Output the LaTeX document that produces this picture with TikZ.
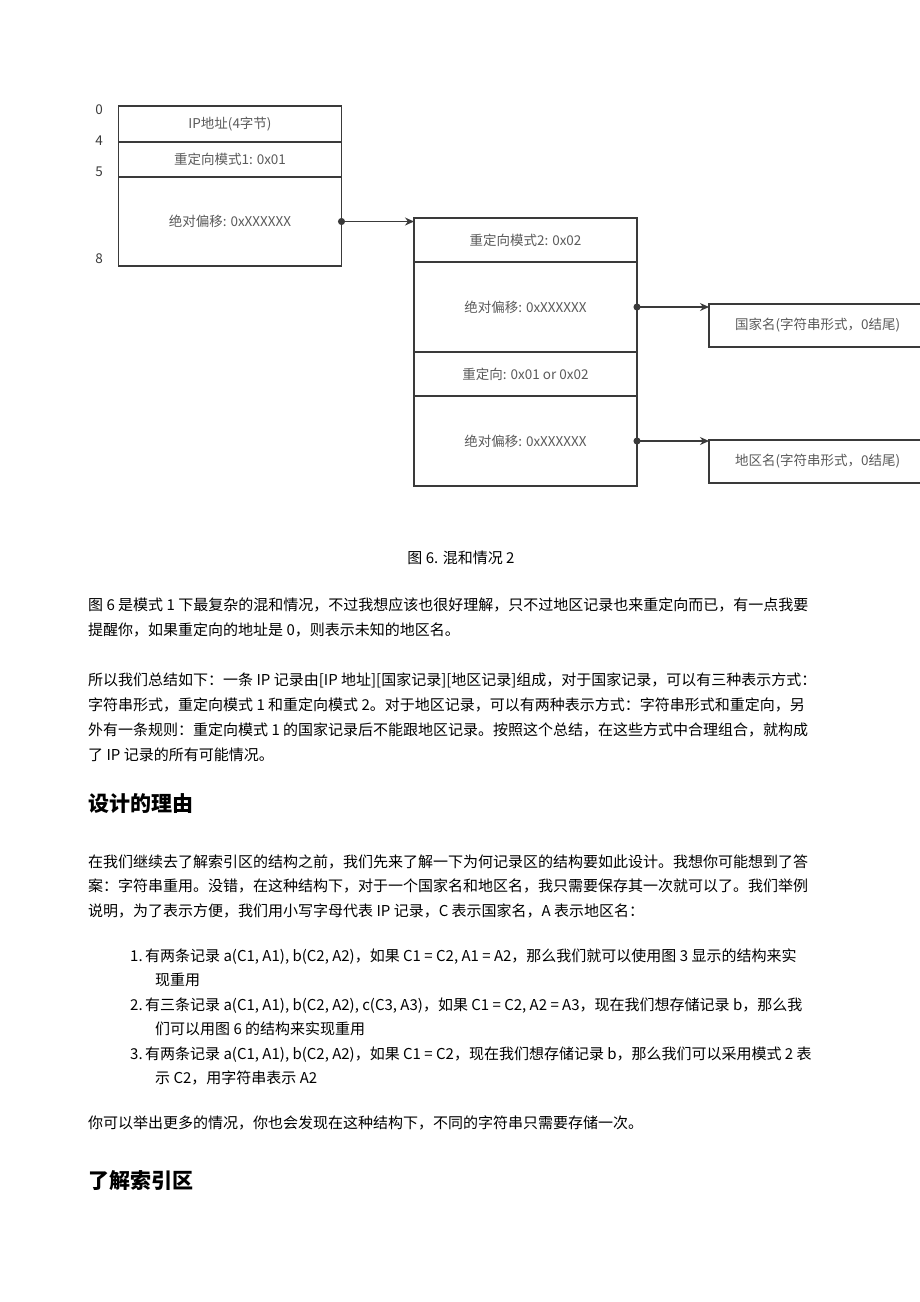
\documentclass[tikz,border=0pt]{standalone}
\usepackage{fontspec}
\setmainfont{Noto Sans CJK SC}
\usetikzlibrary{positioning}
\usetikzlibrary{arrows.meta}

\definecolor{boxline}{HTML}{3A3A3A}
\definecolor{fieldtext}{HTML}{5A5A5A}

\begin{document}
\begin{tikzpicture}[
    x=1pt,
    y=-1pt,
    node distance=0,
    >={Stealth[length=9pt,width=8pt]},
    field/.style={
      rectangle,
      draw=boxline,
      line width=1.1pt,
      minimum width=223pt,
      inner sep=0pt,
      outer sep=0pt,
      text=fieldtext,
      font=\fontsize{13.5}{16}\selectfont
    },
    row/.style={field, minimum height=#1},
    namebox/.style={
      field,
      anchor=north west,
      minimum height=43pt,
      text width=230pt,
      align=left,
      inner xsep=26pt
    },
    offsetptr/.style={
      draw=boxline,
      line width=1.1pt,
      {Circle[length=7pt]}->,
      shorten <=-3.5pt
    },
    byteno/.style={text=boxline, inner sep=0pt, font=\fontsize{13.5}{16}\selectfont},
    body/.style={anchor=base west, align=left, inner sep=0pt, font=\fontsize{15}{25}\selectfont},
    listitem/.style={body, font=\fontsize{15}{24.5}\selectfont},
    heading/.style={anchor=base west, inner sep=0pt, font=\fontsize{21}{25}\selectfont\bfseries},
    ]

    \useasboundingbox (0,0) rectangle (920,1302);
    \clip (0,0) rectangle (920,1302);

    % first record
    \node (ipaddr) [row=36pt, anchor=north] at (230,106) {IP地址(4字节)};
    \node (mode1) [row=35pt, below=of ipaddr] {重定向模式1: 0x01};
    \node (offset1) [row=89pt, below=of mode1] {绝对偏移: 0xXXXXXX};

    \foreach \n/\y in {0/110,4/141,5/172,8/259}{
      \node (byte\n) [byteno] at (99,\y) {\n};
    }

    % redirected record
    \node (mode2) [row=44pt, anchor=north] at (525.5,218) {重定向模式2: 0x02};
    \node (offset2) [row=90pt, below=of mode2] {绝对偏移: 0xXXXXXX};
    \node (redir) [row=44pt, below=of offset2] {重定向: 0x01 or 0x02};
    \node (offset3) [row=90pt, below=of redir] {绝对偏移: 0xXXXXXX};

    \node (country) [namebox] at (709,304) {国家名(字符串形式，0结尾)};
    \node (area) [namebox] at (709,440) {地区名(字符串形式，0结尾)};

    \draw[offsetptr] (offset1.east) -- (offset1.east -| mode2.west);
    \draw[offsetptr] (offset2.east) -- (offset2.east -| country.west);
    \draw[offsetptr] (offset3.east) -- (offset3.east -| area.west);

    \node (caption) [anchor=base, inner sep=0pt, font=\fontsize{15}{18}\selectfont] at (461,563) {图 6. 混和情况 2};

    % text below the figure (base = last line)
    \node (para1) [body] at (88,635) {图 6 是模式 1 下最复杂的混和情况，不过我想应该也很好理解，只不过地区记录也来重定向而已，有一点我要\\提醒你，如果重定向的地址是 0，则表示未知的地区名。};
    \node (para2) [body] at (88,760) {所以我们总结如下：一条 IP 记录由[IP 地址][国家记录][地区记录]组成，对于国家记录，可以有三种表示方式：\\字符串形式，重定向模式 1 和重定向模式 2。对于地区记录，可以有两种表示方式：字符串形式和重定向，另\\外有一条规则：重定向模式 1 的国家记录后不能跟地区记录。按照这个总结，在这些方式中合理组合，就构成\\了 IP 记录的所有可能情况。};

    \node (reason) [heading] at (88,811) {设计的理由};

    \node (para3) [listitem] at (88,916) {在我们继续去了解索引区的结构之前，我们先来了解一下为何记录区的结构要如此设计。我想你可能想到了答\\案：字符串重用。没错，在这种结构下，对于一个国家名和地区名，我只需要保存其一次就可以了。我们举例\\说明，为了表示方便，我们用小写字母代表 IP 记录，C 表示国家名，A 表示地区名：};

    \node (item1) [listitem] at (130,985.5) {1.\,有两条记录 a(C1, A1), b(C2, A2)，如果 C1 = C2, A1 = A2，那么我们就可以使用图 3 显示的结构来实\\\hspace*{25pt}现重用};
    \node (item2) [listitem] at (130,1034.5) {2.\,有三条记录 a(C1, A1), b(C2, A2), c(C3, A3)，如果 C1 = C2, A2 = A3，现在我们想存储记录 b，那么我\\\hspace*{25pt}们可以用图 6 的结构来实现重用};
    \node (item3) [listitem] at (130,1083.5) {3.\,有两条记录 a(C1, A1), b(C2, A2)，如果 C1 = C2，现在我们想存储记录 b，那么我们可以采用模式 2 表\\\hspace*{25pt}示 C2，用字符串表示 A2};

    \node (para4) [body] at (88,1128) {你可以举出更多的情况，你也会发现在这种结构下，不同的字符串只需要存储一次。};

    \node (indexarea) [heading] at (88,1188) {了解索引区};
  \end{tikzpicture}
\end{document}
